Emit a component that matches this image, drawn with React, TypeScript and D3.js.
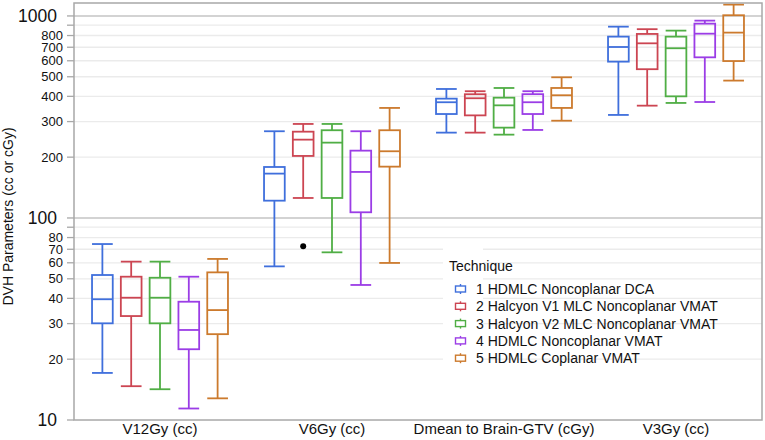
import React from "react";
import * as d3 from "d3";

const categories = ["V12Gy (cc)", "V6Gy (cc)", "Dmean to Brain-GTV (cGy)", "V3Gy (cc)"];
const techniques = [
  "1 HDMLC Noncoplanar DCA",
  "2 Halcyon V1 MLC Noncoplanar VMAT",
  "3 Halcyon V2 MLC Noncoplanar VMAT",
  "4 HDMLC Noncoplanar VMAT",
  "5 HDMLC Coplanar VMAT",
];
const colors = ["#3f6fdc", "#cc4552", "#50ae45", "#9b3de6", "#cc7a2d"];

// [min, q1, median, q3, max] per category
const tech1 = [[17.1, 30.1, 39.6, 52.2, 74.3], [57.6, 121.8, 165.8, 178.8, 268.7], [264.5, 327, 374, 389.6, 435], [323.6, 594, 702, 790, 885]];
const tech2 = [[14.7, 32.7, 40.3, 51.2, 60.8], [125.6, 202.8, 244.2, 267.4, 292], [264.5, 322, 391.4, 409.7, 424], [359.7, 545, 732, 814.6, 860]];
const tech3 = [[14.2, 30.1, 40.3, 50.6, 60.8], [67.6, 125.6, 236, 271.8, 292], [258.5, 280, 361, 394, 440], [371, 400, 692, 790, 846]];
const tech4 = [[11.4, 22.4, 27.9, 38.5, 51.2], [46.6, 106.7, 169, 215.4, 268.7], [272.7, 327, 374, 410, 424], [375, 624, 817, 916, 948]];
const tech5 = [[12.8, 26.6, 35.0, 53.8, 62.7], [59.9, 179.5, 213.9, 271.8, 350.5], [303, 350.5, 405, 440, 497], [478.6, 598, 827, 1008, 1138]];
const allTech = [tech1, tech2, tech3, tech4, tech5];

const outliers = [{ tech: 1, cat: 1, value: 72.4 }];

const labeledTicks = [10, 20, 30, 40, 50, 60, 70, 80, 100, 200, 300, 400, 500, 600, 700, 800, 1000];
const extraTicks = [90, 900];
const decadeTicks = [10, 100, 1000];

const FONT = "'Liberation Sans', Arial, Helvetica, sans-serif";

export default function App() {
  React.useEffect(() => {
    document.body.style.margin = "0";
  }, []);

  const left = 74, right = 762, top = 3, bottom = 420;
  const y = d3.scaleLog().domain([10, 1159]).range([bottom, top]);
  const x = d3.scaleBand<string>().domain(categories).range([left, right]).padding(0);
  const inner = d3
    .scaleBand<string>()
    .domain(techniques)
    .range([0, x.bandwidth()])
    .paddingInner(0.281)
    .paddingOuter(0.626);
  const bw = inner.bandwidth();

  const gridVals = [...labeledTicks, ...extraTicks].filter((v) => v !== 10);

  return (
    <svg width={765} height={440} style={{ display: "block", background: "#fff" }} fontFamily={FONT}>
      {/* gridlines */}
      {gridVals.map((v) => (
        <line
          key={"g" + v}
          x1={left}
          x2={right}
          y1={y(v)}
          y2={y(v)}
          stroke={decadeTicks.includes(v) ? "#c4c4c4" : "#ebebeb"}
          strokeWidth={decadeTicks.includes(v) ? 1.5 : 1.3}
        />
      ))}
      {/* legend knockout behind symbol column */}
      <rect x={443} y={247} width={40} height={120} fill="#fff" />

      {/* boxes */}
      {allTech.map((tech, ti) =>
        tech.map((s, ci) => {
          const cx = (x(categories[ci]) as number) + (inner(techniques[ti]) as number) + bw / 2;
          const [mn, q1, md, q3, mx] = s;
          const c = colors[ti];
          const x0 = cx - bw / 2, x1 = cx + bw / 2;
          return (
            <g key={ti + "-" + ci} stroke={c} strokeWidth={1.8} fill="none">
              <line x1={cx} x2={cx} y1={y(mx)} y2={y(q3)} />
              <line x1={cx} x2={cx} y1={y(q1)} y2={y(mn)} />
              <line x1={x0} x2={x1} y1={y(mx)} y2={y(mx)} />
              <line x1={x0} x2={x1} y1={y(mn)} y2={y(mn)} />
              <rect x={x0} y={y(q3)} width={bw} height={y(q1) - y(q3)} />
              <line x1={x0} x2={x1} y1={y(md)} y2={y(md)} />
            </g>
          );
        })
      )}
      {outliers.map((o, i) => {
        const cx = (x(categories[o.cat]) as number) + (inner(techniques[o.tech]) as number) + bw / 2;
        return <circle key={"o" + i} cx={cx} cy={y(o.value)} r={3} fill="#000" />;
      })}

      {/* frame */}
      <rect x={left} y={top} width={right - left} height={bottom - top} fill="none" stroke="#a8a8a8" strokeWidth={1.5} />

      {/* y ticks */}
      {[...labeledTicks, ...extraTicks].map((v) => (
        <line key={"t" + v} x1={67} x2={left} y1={y(v)} y2={y(v)} stroke="#a8a8a8" strokeWidth={1.3} />
      ))}
      {labeledTicks.map((v) => {
        const big = decadeTicks.includes(v);
        return (
          <text
            key={"l" + v}
            x={big ? 57 : 63}
            y={y(v)}
            dy="0.36em"
            textAnchor="end"
            fontSize={big ? 17.5 : 13}
            fill="#111"
          >
            {v}
          </text>
        );
      })}
      <text
        transform={`translate(13,${(top + bottom) / 2 + 5}) rotate(-90)`}
        textAnchor="middle"
        fontSize={14}
        fill="#111"
      >
        DVH Parameters (cc or cGy)
      </text>

      {/* x labels */}
      {categories.map((c) => (
        <text
          key={c}
          x={(x(c) as number) + x.bandwidth() / 2}
          y={434}
          textAnchor="middle"
          fontSize={15}
          fill="#111"
        >
          {c}
        </text>
      ))}

      {/* legend */}
      <text x={449} y={271} fontSize={14} fill="#111">
        Technique
      </text>
      {techniques.map((t, i) => {
        const cy = 289 + i * 17.3;
        return (
          <g key={t}>
            <g stroke={colors[i]} strokeWidth={1.4} fill="none">
              <rect x={455.5} y={cy - 3} width={10} height={6} />
              <line x1={460.5} x2={460.5} y1={cy - 5} y2={cy - 3} />
              <line x1={460.5} x2={460.5} y1={cy + 3} y2={cy + 5} />
            </g>
            <text x={476} y={cy} dy="0.36em" fontSize={14} fill="#111">
              {t}
            </text>
          </g>
        );
      })}
    </svg>
  );
}
